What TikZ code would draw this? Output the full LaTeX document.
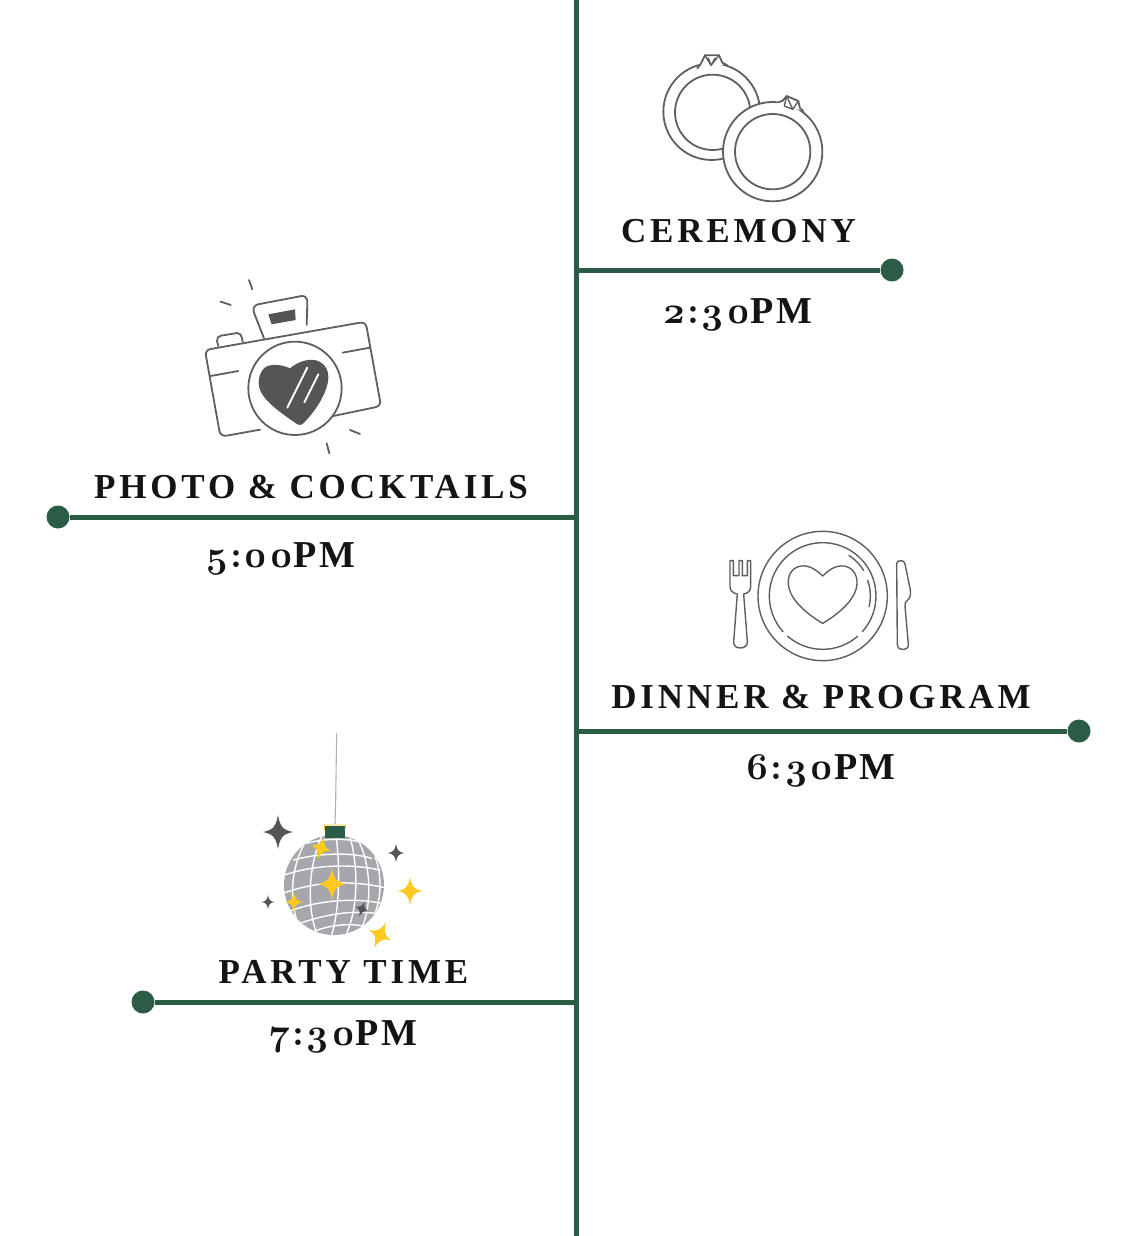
\documentclass[tikz,border=0pt]{standalone}
\usepackage{fontspec}
\setmainfont{Liberation Serif}
\newfontfamily\capfont[LetterSpace=11,BoldFont={Liberation Serif Bold}]{Liberation Serif}
\newfontfamily\timefont[LetterSpace=7,BoldFont={Liberation Serif Bold}]{Liberation Serif}
\newfontfamily\numfont[Numbers=OldStyle,LetterSpace=4]{Latin Modern Roman}
\definecolor{pine}{HTML}{2B5C45}
\definecolor{ink}{HTML}{5F5F5F}
\definecolor{dark}{HTML}{555558}
\definecolor{gold}{HTML}{FFC91F}
\definecolor{ball}{HTML}{A5A7AC}
\definecolor{txt}{HTML}{141414}
\tikzset{
  branch/.style={draw=pine,line width=5pt},
  dot/.style={circle,fill=pine,inner sep=0pt,minimum size=23pt},
  title/.style={anchor=base,inner sep=0pt,text=txt,font=\capfont\bfseries\fontsize{35}{35}\selectfont},
  clock/.style={anchor=base,inner sep=0pt,text=txt,font=\timefont\bfseries\fontsize{38}{38}\selectfont},
  icon/.style={draw=ink,line width=1.8pt,line join=round,line cap=round},
  thin/.style={draw=ink,line width=1.4pt,line join=round,line cap=round},
  mesh/.style={draw=white,line width=1.4pt,line cap=round},
}
\newcommand{\spark}[5]{% x y rotation arm colour
  \pgfmathsetmacro{\sv}{#4}\pgfmathsetmacro{\sh}{0.88*#4}
  \pgfmathsetmacro{\cv}{0.3*#4}\pgfmathsetmacro{\ch}{0.28*#4}
  \pgfmathsetmacro{\cn}{0.13*#4}
  \fill[#5,rotate around={#3:(#1,#2)}] (#1,#2-\sv) .. controls (#1+\cn,#2-\cv) and (#1+\ch,#2-\cn) .. (#1+\sh,#2)
   .. controls (#1+\ch,#2+\cn) and (#1+\cn,#2+\cv) .. (#1,#2+\sv)
   .. controls (#1-\cn,#2+\cv) and (#1-\ch,#2+\cn) .. (#1-\sh,#2)
   .. controls (#1-\ch,#2-\cn) and (#1-\cn,#2-\cv) .. (#1,#2-\sv) -- cycle;}
\begin{document}
\begin{tikzpicture}[x=1pt,y=1pt,yscale=-1]
\useasboundingbox (0,0) rectangle (1133,1236);
\fill[white] (0,0) rectangle (1133,1236);

% timeline
\coordinate (top) at (576,0);
\coordinate (bottom) at (576,1236);
\coordinate (h1) at (576,270);
\coordinate (h2) at (576,517);
\coordinate (h3) at (576,731);
\coordinate (h4) at (574,1002);
\node[dot] (d1) at (892,270) {};
\node[dot] (d2) at (58,517) {};
\node[dot] (d3) at (1079,731) {};
\node[dot] (d4) at (143,1002) {};
\draw[branch] (top) -- (bottom);
\draw[branch] (h1) -- (d1);
\draw[branch] (h2) -- (d2);
\draw[branch] (h3) -- (d3);
\draw[branch] (h4) -- (d4);

% texts
\node[title] (t1) at (738.5,242) {CEREMONY};
\node[clock] (c1) at (737.5,323) {{\numfont 2:30}PM};
\node[title] (t2) at (311,498) {PHOTO \& COCKTAILS};
\node[clock] (c2) at (280.5,567) {{\numfont 5:00}PM};
\node[title] (t3) at (821,708) {DINNER \& PROGRAM};
\node[clock] (c3) at (820.5,779) {{\numfont 6:30}PM};
\node[title] (t4) at (343.5,983) {PARTY TIME};
\node[clock] (c4) at (343.5,1045) {{\numfont 7:30}PM};

% rings
\begin{scope}[shift={(640,40)},scale=0.33333]
\draw[icon] (215,215) circle[radius=145];
\draw[icon] (218,217) circle[radius=113];
\fill[white] (398,335) circle[radius=149];
\fill[white] (178,78) -- (198,45) -- (238,45) -- (250,75) -- cycle;
\draw[icon] (172,85) -- (182,72) -- (195,46) -- (237,46) -- (247,68) -- (262,76);
\draw[thin] (195,46) -- (213,76) -- (237,46) (205,55) -- (213,76) (225,55) -- (213,76);
\draw[icon] (398,335) circle[radius=149];
\draw[icon] (398,335) circle[radius=113];
\fill[white] (410,190) -- (440,168) -- (478,185) -- (490,213) -- cycle;
\draw[icon] (415,187) -- (428,182) -- (440,168) -- (475,183) -- (480,205) -- (490,213);
\draw[thin] (440,168) -- (433,198) -- (458,208) -- (475,183) (440,168) -- (458,208);
\end{scope}

% camera
\begin{scope}[shift={(190,270)},scale=0.33333]
\draw[icon] (210,479) -- (110,497) .. controls (97,499) and (90,492) .. (88,482) -- (48,258)
  .. controls (46,246) and (52,239) .. (62,237) -- (510,158)
  .. controls (520,156) and (528,162) .. (530,172) -- (570,392)
  .. controls (572,403) and (565,410) .. (555,412) -- (430,438);
\draw[icon] (62,318) -- (145,303) (458,248) -- (540,233);
\draw[icon] (222,205) -- (192,128) .. controls (188,116) and (192,106) .. (204,103) -- (335,78)
  .. controls (345,77) and (352,85) .. (352,95) -- (350,165);
\draw[icon] (85,228) -- (81,213) .. controls (80,204) and (85,199) .. (93,197) -- (142,189) .. controls (150,188) and (154,194) .. (158,215);
\fill[dark] (235,133) -- (315,118) -- (317,150) -- (245,163) -- cycle;
\draw[icon,fill=white] (315,355) circle[radius=140];
\fill[dark] (300,295) .. controls (280,285) and (240,278) .. (222,295)
  .. controls (205,312) and (200,345) .. (215,370)
  .. controls (235,405) and (290,440) .. (322,463)
  .. controls (328,467) and (335,465) .. (340,460)
  .. controls (370,430) and (415,370) .. (415,320)
  .. controls (415,285) and (385,265) .. (355,270)
  .. controls (330,273) and (312,285) .. (300,295) -- cycle;
\draw[draw=white,line width=1.9pt,line cap=round] (292,413) -- (352,293) (343,397) -- (385,313);
\draw[icon] (177,30) -- (187,58) (92,95) -- (122,105) (480,480) -- (510,492) (410,520) -- (418,550);
\end{scope}

% plate
\begin{scope}[shift={(715,520)},scale=0.33333]
\draw[thin] (323,228) circle[radius=194];
\draw[thin] (323,228) ++(138:160) arc[start angle=138,end angle=402,radius=160];
\draw[thin] (323,228) ++(49:160) arc[start angle=49,end angle=131,radius=160];
\draw[thin] (323,228) ++(-57:145) arc[start angle=-57,end angle=-32,radius=145];
\draw[thin] (323,228) ++(-19:143) arc[start angle=-19,end angle=13,radius=143];
\draw[thin] (323,168) .. controls (300,145) and (275,132) .. (250,140)
  .. controls (225,148) and (215,175) .. (222,205)
  .. controls (232,245) and (280,285) .. (323,310)
  .. controls (366,285) and (414,245) .. (424,205)
  .. controls (431,175) and (420,148) .. (395,140)
  .. controls (370,132) and (346,145) .. (323,168) -- cycle;
\draw[thin] (45,122) -- (45,200) .. controls (45,213) and (55,220) .. (67,222)
  -- (56,365) .. controls (55,378) and (65,384) .. (76,384) .. controls (87,384) and (98,378) .. (97,365)
  -- (86,222) .. controls (98,220) and (107,213) .. (107,200) -- (107,122) -- (97,122) -- (97,167) -- (82,167) -- (82,122)
  -- (72,122) -- (72,167) -- (55,167) -- (55,122) -- cycle;
\draw[thin] (545,132) .. controls (545,124) and (550,122) .. (558,122) .. controls (565,122) and (568,125) .. (570,132)
  -- (586,210) .. controls (588,225) and (585,235) .. (578,240) .. controls (572,244) and (569,250) .. (570,258)
  -- (580,372) .. controls (581,382) and (575,388) .. (565,388) .. controls (553,388) and (547,384) .. (547,375) -- cycle;
\end{scope}

% disco ball
\begin{scope}[shift={(250,800)},scale=0.33333]
\draw[draw=gray!60,line width=1.1pt] (260,-200) -- (257,0) -- (255,72);
\fill[ball] (252,255) circle[radius=150];
\begin{scope}
\clip (252,255) circle[radius=150];
\draw[mesh] (258,105) .. controls (270,200) and (270,320) .. (245,405);
\draw[mesh] (215,108) .. controls (175,200) and (170,320) .. (200,400);
\draw[mesh] (170,120) .. controls (120,200) and (115,310) .. (150,385);
\draw[mesh] (300,110) .. controls (325,200) and (325,320) .. (290,400);
\draw[mesh] (325,120) .. controls (365,200) and (365,320) .. (335,385);
\draw[mesh] (375,170) .. controls (395,220) and (395,290) .. (375,340);
\draw[mesh] (170,130) .. controls (220,115) and (290,115) .. (325,125);
\draw[mesh] (130,180) .. controls (200,160) and (300,155) .. (365,175);
\draw[mesh] (103,225) .. controls (190,195) and (300,190) .. (390,210);
\draw[mesh] (100,280) .. controls (190,245) and (300,240) .. (400,262);
\draw[mesh] (115,335) .. controls (190,305) and (300,290) .. (395,310);
\draw[mesh] (150,370) .. controls (220,345) and (300,330) .. (375,340);
\draw[mesh] (190,395) .. controls (230,378) and (290,368) .. (340,378);
\end{scope}
\fill[pine] (225,77) rectangle (285,113);
\draw[gold,line width=0.9pt] (223,90) -- (223,75) -- (287,75) -- (285,90);
\end{scope}
% sparkles (pixel positions)
\spark{278}{832}{0}{17}{dark}
\spark{396}{853}{0}{9}{dark}
\spark{268}{902}{0}{7}{dark}
\spark{362}{909}{20}{8}{dark}
\spark{321}{848}{15}{12}{gold}
\spark{332}{884}{0}{16}{gold}
\spark{294}{902}{0}{10}{gold}
\spark{410}{891}{0}{14}{gold}
\spark{380}{935}{25}{14}{gold}
\end{tikzpicture}
\end{document}
